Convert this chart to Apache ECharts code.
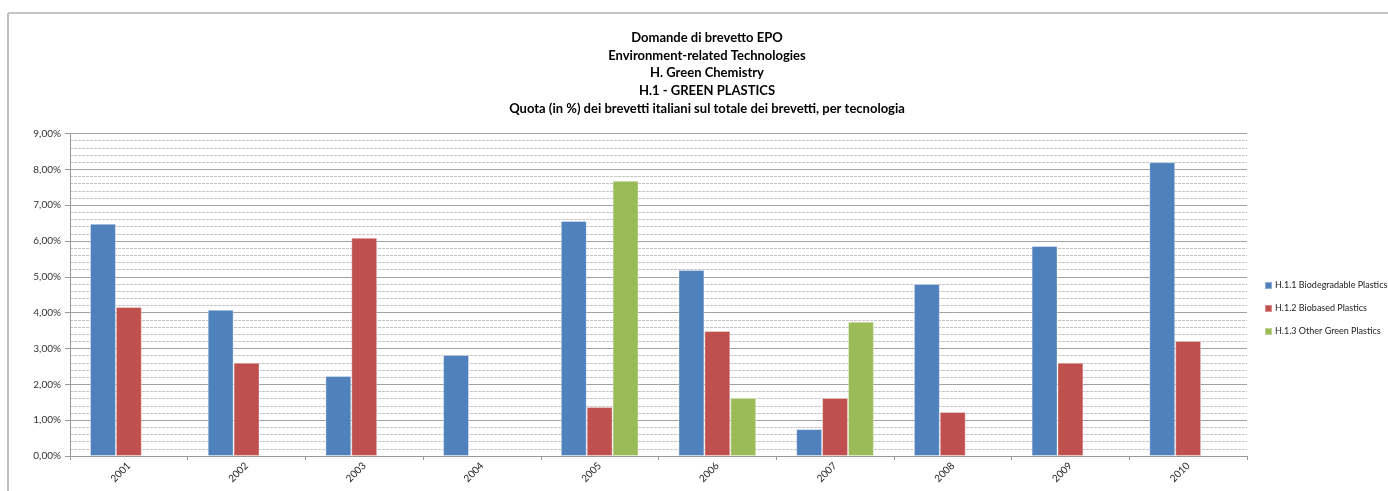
<!DOCTYPE html>
<html>
<head>
<meta charset="utf-8">
<script src="https://cdn.jsdelivr.net/npm/echarts@6/dist/echarts.min.js"></script>
<style>
  html, body { margin: 0; padding: 0; background: #fff; }
  #chart { width: 1388px; height: 491px; }
</style>
</head>
<body>
<div id="chart"></div>
<script>
const years = ['2001', '2002', '2003', '2004', '2005', '2006', '2007', '2008', '2009', '2010'];
const biodegradable = [6.48, 4.08, 2.23, 2.82, 6.56, 5.19, 0.75, 4.80, 5.86, 8.20];
const biobased = [4.16, 2.60, 6.09, null, 1.37, 3.49, 1.62, 1.23, 2.60, 3.21];
const otherGreen = [null, null, null, null, 7.68, 1.62, 3.75, null, null, null];
const titleLines = [
  'Domande di brevetto EPO',
  'Environment-related Technologies',
  'H. Green Chemistry',
  'H.1 - GREEN PLASTICS',
  'Quota (in %) dei brevetti italiani sul totale dei brevetti, per tecnologia'
];

const font = 'Lato, "Open Sans", sans-serif';

const chart = echarts.init(document.getElementById('chart'));

function barSeries(name, data, color) {
  return {
    name: name,
    type: 'bar',
    data: data,
    barGap: 0,
    barCategoryGap: '34%',
    itemStyle: {
      color: color,
      borderColor: 'rgba(255,255,255,0.35)',
      borderWidth: 1
    }
  };
}

chart.setOption({
  animation: false,
  textStyle: { fontFamily: font },
  title: {
    text: titleLines.join('\n'),
    left: 702,
    textAlign: 'center',
    top: 24,
    textStyle: {
      fontFamily: font,
      fontSize: 13,
      fontWeight: 'bold',
      color: '#000',
      lineHeight: 17.7
    }
  },
  graphic: [
    { type: 'line', shape: { x1: 8, y1: 13, x2: 1388, y2: 13 }, style: { stroke: '#8a8a8a', lineWidth: 1 } },
    { type: 'line', shape: { x1: 8, y1: 13, x2: 8, y2: 491 }, style: { stroke: '#bdbdbd', lineWidth: 2 } }
  ],
  legend: {
    orient: 'vertical',
    left: 1264,
    top: 281,
    padding: 0,
    itemWidth: 7,
    itemHeight: 7,
    itemGap: 14,
    icon: 'rect',
    textStyle: { fontFamily: font, fontSize: 9, color: '#222', padding: [0, 0, 0, -2] }
  },
  grid: { left: 70, right: 141, top: 133.5, bottom: 35, containLabel: false },
  xAxis: {
    type: 'category',
    data: years,
    axisLine: { lineStyle: { color: '#999' } },
    axisTick: { show: true, length: 4, lineStyle: { color: '#999' } },
    axisLabel: { rotate: 45, fontSize: 10, color: '#222', margin: 8, fontFamily: font }
  },
  yAxis: {
    type: 'value',
    min: 0,
    max: 9,
    interval: 1,
    axisLine: { show: true, lineStyle: { color: '#999' } },
    axisTick: { show: true, length: 5, lineStyle: { color: '#999' } },
    axisLabel: {
      fontSize: 10,
      color: '#333',
      margin: 9,
      fontFamily: font,
      formatter: v => v.toFixed(2).replace('.', ',') + '%'
    },
    splitLine: { show: true, lineStyle: { color: '#a0a0a0', width: 1 } },
    minorTick: { show: false, splitNumber: 5 },
    minorSplitLine: { show: true, lineStyle: { color: '#c4c4c4', type: [3, 1], width: 1 } }
  },
  series: [
    barSeries('H.1.1 Biodegradable Plastics', biodegradable, '#4F81BD'),
    barSeries('H.1.2 Biobased Plastics', biobased, '#C0504D'),
    barSeries('H.1.3 Other Green Plastics', otherGreen, '#9BBB59')
  ]
});
</script>
</body>
</html>
